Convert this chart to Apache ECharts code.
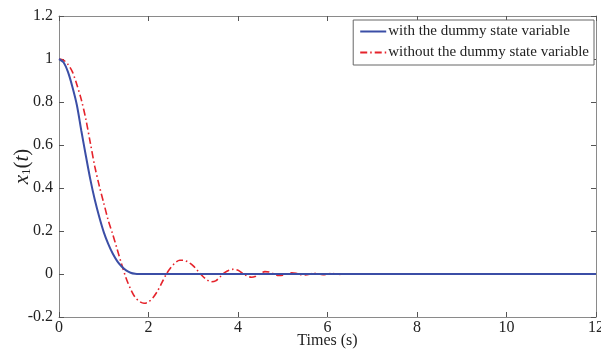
<!DOCTYPE html>
<html>
<head>
<meta charset="utf-8">
<script src="https://cdn.jsdelivr.net/npm/echarts@6/dist/echarts.min.js"></script>
<style>
  html, body { margin: 0; padding: 0; background: #fff; }
  #chart { width: 601px; height: 354px; }
</style>
</head>
<body>
<div id="chart"></div>
<script>
// 时间轴与两条响应曲线
const tWith = [0, 0.1, 0.2, 0.3, 0.4, 0.5, 0.6, 0.7, 0.8, 0.9, 1.0, 1.1, 1.2, 1.3, 1.4, 1.5, 1.6, 1.7, 1.8, 3, 6, 9, 12];
const xWith = [1, 0.985, 0.94, 0.87, 0.785, 0.665, 0.55, 0.44, 0.345, 0.265, 0.195, 0.14, 0.095, 0.06, 0.035, 0.017, 0.006, 0.001, 0, 0, 0, 0, 0];

const tWithout = [0, 0.1, 0.2, 0.3, 0.4, 0.5, 0.6, 0.7, 0.8, 0.9, 1.0, 1.1, 1.2, 1.3, 1.4, 1.5, 1.6, 1.7, 1.8, 1.9, 2.0, 2.1, 2.2, 2.3, 2.4, 2.5, 2.6, 2.7, 2.8, 2.9, 3.0, 3.1, 3.2, 3.3, 3.4, 3.5, 3.6, 3.7, 3.8, 3.9, 4.0, 4.1, 4.2, 4.3, 4.4, 4.5, 4.6, 4.7, 4.8, 4.9, 5.0, 5.1, 5.2, 5.3, 5.4, 5.5, 5.7, 5.9, 6.1, 6.3, 6.5, 6.8, 7.2, 9, 12];
const xWithout = [1, 0.995, 0.975, 0.94, 0.88, 0.81, 0.72, 0.61, 0.5, 0.41, 0.33, 0.25, 0.185, 0.115, 0.045, -0.02, -0.07, -0.108, -0.128, -0.136, -0.13, -0.11, -0.08, -0.04, 0.0, 0.03, 0.053, 0.064, 0.063, 0.054, 0.038, 0.015, -0.008, -0.026, -0.036, -0.032, -0.013, 0.006, 0.018, 0.022, 0.017, 0.004, -0.008, -0.015, -0.01, 0.002, 0.011, 0.009, 0.0, -0.007, -0.006, 0.0, 0.006, 0.003, -0.003, -0.004, 0.003, -0.003, 0.002, -0.002, 0.001, -0.001, 0, 0, 0];

const seriesNames = ['with the dummy state variable', 'without the dummy state variable'];

const font = 'Liberation Serif';
const axisGray = '#8a8a8a';
const textColor = '#222';

const chart = echarts.init(document.getElementById('chart'));

const baseAxis = {
    axisLine: { show: true, onZero: false, lineStyle: { color: axisGray, width: 1 } },
    axisTick: { show: true, inside: true, length: 5, lineStyle: { color: '#555' } },
    splitLine: { show: false }
};

chart.setOption({
    animation: false,
    backgroundColor: '#fff',
    grid: { left: 59, right: 5, top: 16, bottom: 37, outerBoundsMode: 'none', containLabel: false },
    legend: {
        orient: 'vertical',
        right: 7,
        top: 20,
        itemWidth: 26,
        itemHeight: 10,
        itemGap: 6,
        padding: [4, 5, 5, 6],
        borderColor: '#666',
        borderWidth: 1,
        backgroundColor: '#fff',
        itemStyle: { opacity: 0 },
        textStyle: { fontFamily: font, fontSize: 15, color: textColor, padding: [0, 0, 0, -3] },
        data: seriesNames
    },
    xAxis: [
        Object.assign({}, baseAxis, {
            type: 'value',
            min: 0,
            max: 12,
            interval: 2,
            name: 'Times (s)',
            nameLocation: 'middle',
            nameGap: 16,
            nameMoveOverlap: false,
            nameTextStyle: { fontFamily: font, fontSize: 16, color: textColor },
            axisLabel: { fontFamily: font, fontSize: 16, color: textColor, margin: 3 }
        }),
        Object.assign({}, baseAxis, {
            type: 'value',
            position: 'top',
            min: 0,
            max: 12,
            interval: 2,
            axisLabel: { show: false }
        })
    ],
    yAxis: [
        Object.assign({}, baseAxis, {
            type: 'value',
            min: -0.2,
            max: 1.2,
            interval: 0.2,
            name: '{i|x}{s|1}{n|(}{i|t}{n|)}',
            nameLocation: 'middle',
            nameRotate: 90,
            nameGap: 26,
            nameMoveOverlap: false,
            nameTextStyle: {
                fontFamily: font,
                color: textColor,
                rich: {
                    i: { fontFamily: font, fontSize: 21, fontStyle: 'italic', color: textColor },
                    n: { fontFamily: font, fontSize: 21, color: textColor },
                    s: { fontFamily: font, fontSize: 13, color: textColor, verticalAlign: 'bottom', lineHeight: 18, padding: [8, 0, 0, 0] }
                }
            },
            axisLabel: { fontFamily: font, fontSize: 16, color: textColor, margin: 6 }
        }),
        Object.assign({}, baseAxis, {
            type: 'value',
            position: 'right',
            min: -0.2,
            max: 1.2,
            interval: 0.2,
            axisLabel: { show: false }
        })
    ],
    series: [
        {
            name: seriesNames[0],
            type: 'line',
            symbol: 'none',
            smooth: 0.3,
            lineStyle: { color: '#3b4ea6', width: 2 },
            itemStyle: { color: '#3b4ea6' },
            data: tWith.map((t, i) => [t, xWith[i]]),
            z: 3
        },
        {
            name: seriesNames[1],
            type: 'line',
            symbol: 'none',
            smooth: 0.3,
            lineStyle: { color: '#e5232b', width: 1.6, type: [7, 3, 1.5, 3] },
            itemStyle: { color: '#e5232b' },
            data: tWithout.map((t, i) => [t, xWithout[i]]),
            z: 2
        }
    ]
});
</script>
</body>
</html>
